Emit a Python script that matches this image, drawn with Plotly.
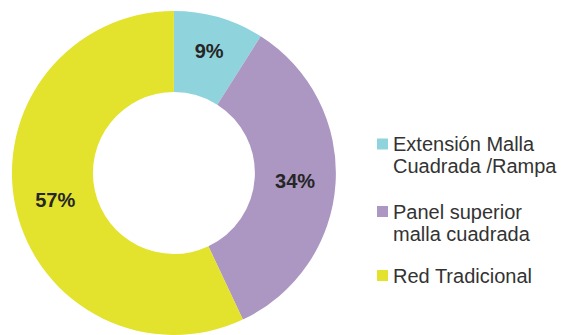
import plotly.graph_objects as go

# Share of each net type
labels = ["Extensión Malla<br>Cuadrada /Rampa", "Panel superior<br>malla cuadrada", "Red Tradicional"]
values = [9, 34, 57]
colors = ["#8fd4dc", "#ab97c2", "#e3e22c"]

W, H = 564, 335

fig = go.Figure(
    go.Pie(
        labels=labels,
        values=values,
        hole=0.5,
        sort=False,
        direction="clockwise",
        rotation=0,
        marker=dict(colors=colors, line=dict(width=0)),
        texttemplate="%{percent:.0%}",
        textposition="inside",
        insidetextorientation="horizontal",
        textfont=dict(family="Liberation Sans", size=20, color="#262626", weight="bold"),
        domain=dict(x=[0.0177, 0.599], y=[0.0, 0.967]),
        hoverinfo="label+percent",
        showlegend=False,
    )
)

# Legend on the right: a colour square beside each label, aligned with the
# label's first line; label lines are set with a tight line step.
legend_first_line_px = [144, 211.5, 275.5]   # vertical centre of each entry's first line
line_step_px = 22
for lab, col, yc in zip(labels, colors, legend_first_line_px):
    fig.add_shape(
        type="rect", xref="paper", yref="paper",
        x0=377 / W, x1=388 / W,
        y0=1 - (yc + 5.5) / H, y1=1 - (yc - 5.5) / H,
        fillcolor=col, line=dict(width=0),
    )
    for i, line in enumerate(lab.split("<br>")):
        fig.add_annotation(
            xref="paper", yref="paper",
            x=391 / W, y=1 - (yc + i * line_step_px) / H,
            xanchor="left", yanchor="middle", align="left",
            text=line, showarrow=False,
            font=dict(family="Liberation Sans", size=20, color="#333333"),
        )

fig.update_layout(
    width=W,
    height=H,
    margin=dict(l=0, r=0, t=0, b=0),
    paper_bgcolor="white",
    plot_bgcolor="white",
)

fig.write_html("out.html")
